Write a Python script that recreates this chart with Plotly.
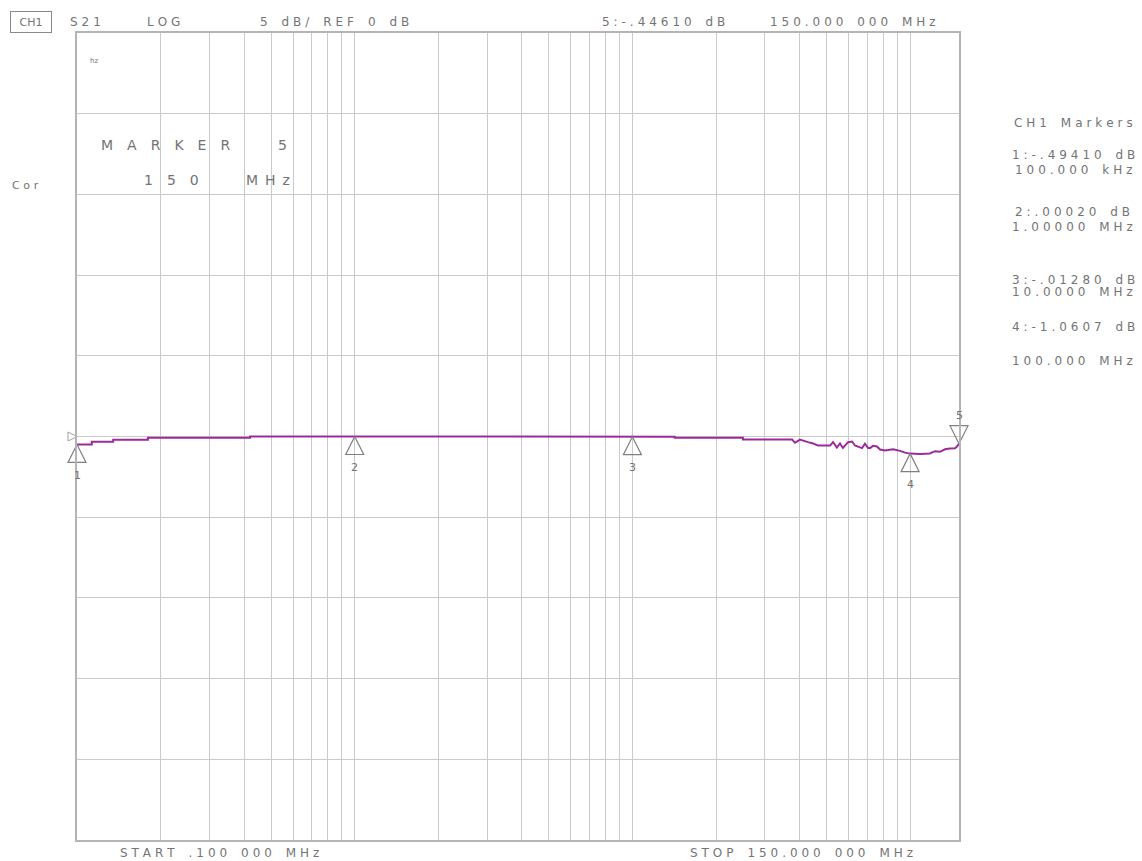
import numpy as np
import plotly.graph_objects as go

# ---- trace data (S21 log magnitude, dB vs frequency in MHz) ----
freq_mhz = [0.1, 0.113, 0.113, 0.135, 0.135, 0.18, 0.18, 0.42, 0.42, 1.0, 10.0,
            14.2, 14.2, 25.0, 25.0, 37.6, 38.5, 40.1, 42.9, 44.7, 46.6, 51.5,
            52.8, 54.5, 55.9, 57.3, 59.8, 61.8, 63.3, 64.9, 67.1, 68.8, 70.5,
            71.7, 73.5, 76.0, 77.9, 81.2, 86.8, 92.0, 95.9, 100.0, 108.5,
            117.9, 122.9, 128.1, 133.6, 139.2, 145.1, 147.5, 150.0]
s21_db = [-0.494, -0.494, -0.33, -0.33, -0.20, -0.20, -0.08, -0.08, 0.0, 0.0002, -0.0128,
          -0.01, -0.08, -0.08, -0.19, -0.19, -0.39, -0.19, -0.35, -0.43, -0.56, -0.56,
          -0.35, -0.68, -0.43, -0.71, -0.35, -0.31, -0.56, -0.62, -0.72, -0.45, -0.70,
          -0.72, -0.58, -0.62, -0.81, -0.87, -0.79, -0.89, -1.00, -1.0607, -1.08,
          -1.05, -0.91, -0.95, -0.79, -0.74, -0.73, -0.62, -0.4461]

# ---- markers ----
marker_names = ["1", "2", "3", "4", "5"]
marker_freq = [0.1, 1.0, 10.0, 100.0, 150.0]
marker_db = [-0.4941, 0.0002, -0.0128, -1.0607, -0.4461]

# ---- grid ----
x_grid = [k * 10.0 ** d for d in (-1, 0, 1, 2) for k in range(1, 10) if k * 10.0 ** d <= 150]
y_grid = [-25, -20, -15, -10, -5, 0, 5, 10, 15, 20, 25]

TXT = "#747474"
GRID = "#cacaca"
FONT = "DejaVu Sans"

fig = go.Figure()
fig.add_trace(go.Scatter(x=freq_mhz, y=s21_db, mode="lines",
                         line=dict(color="#9a2c9a", width=2), showlegend=False,
                         hoverinfo="skip"))
# markers 1..4 (up triangles), 5 (down triangle)
fig.add_trace(go.Scatter(x=marker_freq[:4], y=marker_db[:4], mode="markers",
                         marker=dict(symbol="arrow-up-open", size=18, color="#808080",
                                     line=dict(color="#808080", width=1.2)),
                         cliponaxis=False, showlegend=False, hoverinfo="skip"))
fig.add_trace(go.Scatter(x=marker_freq[4:], y=marker_db[4:], mode="markers",
                         marker=dict(symbol="arrow-down-open", size=18, color="#808080",
                                     line=dict(color="#808080", width=1.2)),
                         cliponaxis=False, showlegend=False, hoverinfo="skip"))
# reference level pointer
fig.add_trace(go.Scatter(x=[0.1], y=[0], mode="markers",
                         marker=dict(symbol="arrow-right-open", size=9, color="#a0a0a0",
                                     line=dict(color="#a0a0a0", width=1)),
                         cliponaxis=False, showlegend=False, hoverinfo="skip"))

annotations = []
for name, f, v in zip(marker_names, marker_freq, marker_db):
    annotations.append(dict(x=np.log10(f), y=v, xref="x", yref="y", text=name,
                            showarrow=False, yshift=(28 if name == "5" else -31),
                            font=dict(family=FONT, size=11, color=TXT)))


def sp(s, gap="\u2004"):
    return gap.join("\u2002" if c == " " else c for c in s)


def label(text, x, y, size=12, anchor="left", **kw):
    annotations.append(dict(x=(x - 77) / 882, y=(840 - y) / 807, xref="paper", yref="paper",
                            text=text, showarrow=False, xanchor=anchor, yanchor="middle",
                            font=dict(family=FONT, size=size, color=TXT), **kw))


# header
label("CH1", 31, 22, size=11, anchor="center", bordercolor="#8a8a8a", borderwidth=1,
      borderpad=3, width=34, height=14)
label(sp("S21"), 68, 22)
label(sp("LOG"), 145, 22)
label(sp("5 dB/ REF 0 dB"), 258, 22)
label(sp("5:-.44610 dB"), 600, 22)
label(sp("150.000 000 MHz"), 768, 22)
# left side
label(sp("Cor"), 10, 185, size=11)
label("hz", 88, 61, size=7)
label("\u2003".join("MARKER"), 99, 145, size=14)
label("5", 276, 145, size=14)
label("\u2003".join("150"), 142, 180, size=14)
label("\u2002".join("MHz"), 244, 180, size=14)
# right side marker table
label(sp("CH1 Markers"), 1012, 123)
label(sp("1:-.49410 dB"), 1010, 155)
label(sp("100.000 kHz"), 1013, 170)
label(sp("2:.00020 dB"), 1013, 212)
label(sp("1.00000 MHz"), 1010, 227)
label(sp("3:-.01280 dB"), 1010, 280)
label(sp("10.0000 MHz"), 1010, 292)
label(sp("4:-1.0607 dB"), 1010, 327)
label(sp("100.000 MHz"), 1010, 361)
# footer
label(sp("START .100 000 MHz"), 118, 853)
label(sp("STOP 150.000 000 MHz"), 688, 853)

fig.update_layout(
    width=1142, height=861,
    margin=dict(l=77, r=183, t=33, b=21),
    paper_bgcolor="white", plot_bgcolor="white",
    showlegend=False,
    annotations=annotations,
    xaxis=dict(type="log", range=[np.log10(0.1), np.log10(150)], tickvals=x_grid,
               showticklabels=False, ticks="", showgrid=True, gridcolor=GRID, gridwidth=1,
               showline=True, linecolor="#b4b4b4", linewidth=1.5, mirror=True,
               zeroline=False),
    yaxis=dict(range=[-25, 25], tickvals=y_grid, showticklabels=False, ticks="",
               showgrid=True, gridcolor=GRID, gridwidth=1, showline=True,
               linecolor="#b4b4b4", linewidth=1.5, mirror=True, zeroline=False),
)

fig.write_html("out.html", config={"displayModeBar": False},
               post_script="document.body.style.margin='0';document.body.style.overflow='hidden';")
